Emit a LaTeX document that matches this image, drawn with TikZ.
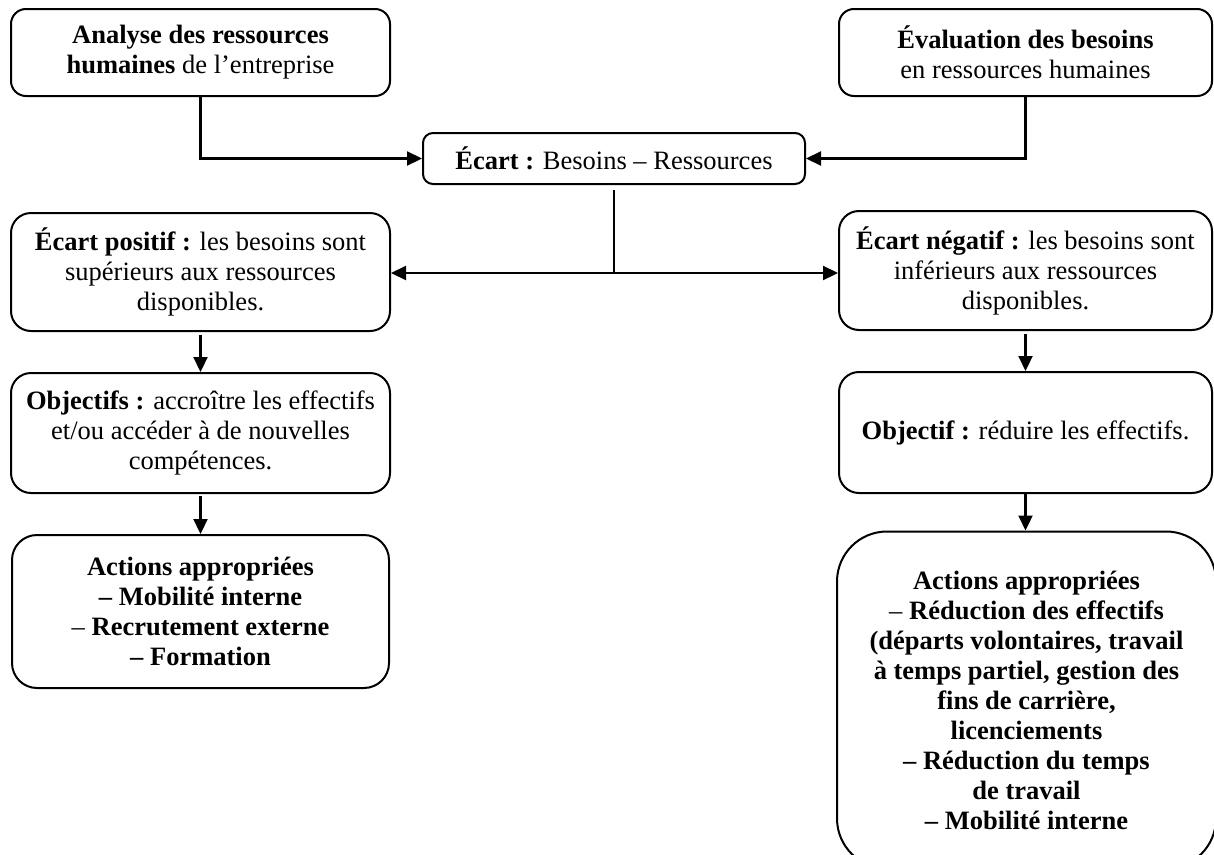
\documentclass[tikz,border=0pt]{standalone}
\usepackage{fontspec}
\setmainfont{Liberation Serif}
\usetikzlibrary{arrows.meta}
\begin{document}
\begin{tikzpicture}[x=1pt,y=-1pt,
  box/.style={draw, line width=2pt, align=center, inner sep=3pt,
    font=\fontsize{26.5}{30}\selectfont},
  conn/.style={line width=2.2pt},
  arr/.style={conn, -{Triangle[length=15pt,width=14pt]}}]
\useasboundingbox (0,0) rectangle (1214,854);
\node[box, rounded corners=15pt, minimum width=379pt, minimum height=87pt] (A) at (200.5,52.5)
  {\textbf{Analyse des ressources}\\\textbf{humaines} de l’entreprise};
\node[box, rounded corners=15pt, minimum width=373pt, minimum height=87pt] (E) at (1025.5,52.5)
  {\textbf{Évaluation des besoins}\\en ressources humaines};
\node[box, rounded corners=10pt, minimum width=382pt, minimum height=51pt] (C) at (614,158.5)
  {\textbf{Écart :} Besoins – Ressources};
\node[box, rounded corners=20pt, minimum width=379pt, minimum height=118pt] (P) at (200.5,272)
  {\textbf{Écart positif :} les besoins sont\\supérieurs aux ressources\\disponibles.};
\node[box, rounded corners=20pt, minimum width=373pt, minimum height=119pt] (N) at (1025.5,270.5)
  {\textbf{Écart négatif :} les besoins sont\\inférieurs aux ressources\\disponibles.};
\node[box, rounded corners=20pt, minimum width=379pt, minimum height=120pt] (OP) at (200.5,433)
  {\textbf{Objectifs :} accroître les effectifs\\et/ou accéder à de nouvelles\\compétences.};
\node[box, rounded corners=20pt, minimum width=373pt, minimum height=121pt] (ON) at (1025.5,432.5)
  {\textbf{Objectif :} réduire les effectifs.};
\node[box, rounded corners=25pt, minimum width=377pt, minimum height=153pt] (AP) at (200.5,611.5)
  {\textbf{Actions appropriées}\\\textbf{– Mobilité interne}\\– \textbf{Recrutement externe}\\\textbf{– Formation}};
\node[box, rounded corners=50pt, minimum width=379pt, minimum height=337pt] (AN) at (1026.5,700)
  {\textbf{Actions appropriées}\\– \textbf{Réduction des effectifs}\\\textbf{(départs volontaires, travail}\\\textbf{à temps partiel, gestion des}\\\textbf{fins de carrière,}\\\textbf{licenciements}\\\textbf{– Réduction du temps}\\\textbf{de travail}\\\textbf{– Mobilité interne}};
\coordinate (j) at (614,273);
\draw[arr] (A.south) |- (C.west);
\draw[arr] (E.south) |- (C.east);
\draw[conn] ([yshift=-5pt]C.south) -- (j);
\draw[arr] (j) -- (j -| P.east);
\draw[arr] (j) -- (j -| N.west);
\draw[arr, shorten <=3pt] (P.south) -- (OP.north);
\draw[arr, shorten <=3pt] (N.south) -- (ON.north);
\draw[arr, shorten <=2pt] (OP.south) -- (AP.north);
\draw[arr] (ON.south) -- (ON.south |- AN.north);
\end{tikzpicture}
\end{document}
